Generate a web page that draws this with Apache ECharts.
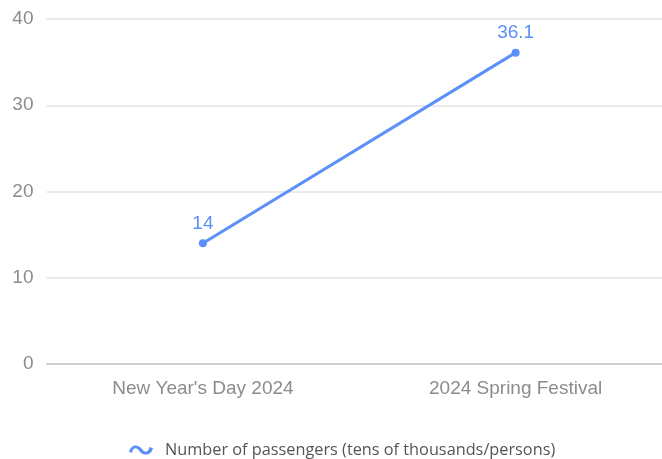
<!DOCTYPE html>
<html><head><meta charset="utf-8">
<script src="https://cdn.jsdelivr.net/npm/echarts@6/dist/echarts.min.js"></script>
<style>html,body{margin:0;padding:0;background:#fff;overflow:hidden}#c{width:662px;height:459px}</style>
</head><body><div id="c"></div>
<script>
const categories = ["New Year's Day 2024", "2024 Spring Festival"];
const passengers = [14, 36.1];
const seriesName = "Number of passengers (tens of thousands/persons)";
const yTicks = [0, 10, 20, 30, 40];

const blue = '#5B8FF9';
const chart = echarts.init(document.getElementById('c'), null, {renderer: 'canvas'});
chart.setOption({
  animation: false,
  grid: {left: 46.5, right: -10, top: 19, bottom: 95, containLabel: false, outerBoundsMode: 'none'},
  legend: {
    left: 124, top: 437,
    itemWidth: 24, itemHeight: 12, itemGap: 10,
    icon: 'path://M0,6.5 C2,-0.5 8,0 11,4 C13.5,7.5 16.5,7.5 17.5,2.5 L20.5,3.5 C18.5,10.5 12,10 9,6 C6.5,2.5 3.5,2.5 2.5,7.5 Z',
    textStyle: {fontFamily: 'Open Sans', fontSize: 16.3, color: '#555', padding: [0, 0, 0, 7]},
    data: [seriesName]
  },
  xAxis: {
    type: 'category', data: categories, boundaryGap: true,
    axisLine: {lineStyle: {color: '#c8c8c8', width: 1.5}},
    axisTick: {alignWithLabel: true, length: 6, lineStyle: {color: '#c8c8c8'}},
    axisLabel: {color: '#8c8c8c', fontSize: 19, fontFamily: 'Liberation Sans', margin: 15}
  },
  yAxis: {
    type: 'value', min: yTicks[0], max: yTicks[yTicks.length - 1], interval: 10,
    axisLine: {show: false}, axisTick: {show: false},
    splitLine: {lineStyle: {color: '#e3e3e3', width: 1.5}},
    axisLabel: {color: '#8c8c8c', fontSize: 19, fontFamily: 'Liberation Sans', margin: 13}
  },
  series: [{
    name: seriesName, type: 'line', data: passengers,
    symbol: 'circle', symbolSize: 8,
    lineStyle: {color: blue, width: 3},
    itemStyle: {color: blue},
    label: {show: true, position: 'top', color: blue, fontSize: 19, fontFamily: 'Liberation Sans', distance: 6}
  }]
});
</script></body></html>
